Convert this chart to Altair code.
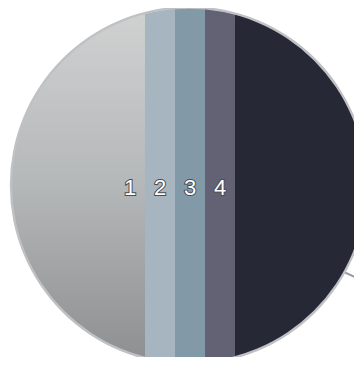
import math
import altair as alt
import pandas as pd

# stripe data (left to right)
categories = ["1", "2", "3", "4", "5"]
widths = [137, 30, 30, 30, 127]
colors = ["#b4b6b7", "#a6b5bf", "#8299a8", "#636174", "#262836"]
labels = ["1", "2", "3", "4", ""]

ends = pd.Series(widths).cumsum()
starts = ends - pd.Series(widths)
df = pd.DataFrame({
    "cat": categories,
    "start": starts,
    "end": ends,
    "label": labels,
    "labx": ends - 15,
})

W, H = 346, 349
CX, CY, R = 181, 177.5, 178

xs = alt.Scale(domain=[0, W], nice=False, zero=False)

gradient = alt.Gradient(
    gradient="linear",
    stops=[alt.GradientStop(color="#d0d2d2", offset=0),
           alt.GradientStop(color="#b5b8b9", offset=0.5),
           alt.GradientStop(color="#8e9091", offset=1)],
    x1=0, x2=0, y1=0, y2=1,
)

first = alt.Chart(df[df.cat == "1"]).mark_rect(color=gradient).encode(
    x=alt.X("start:Q", scale=xs, axis=None),
    x2="end:Q",
    y=alt.value(0),
    y2=alt.value(H),
)

rest = alt.Chart(df[df.cat != "1"]).mark_rect().encode(
    x=alt.X("start:Q", scale=xs, axis=None),
    x2="end:Q",
    y=alt.value(0),
    y2=alt.value(H),
    color=alt.Color("cat:N", scale=alt.Scale(domain=categories[1:], range=colors[1:]), legend=None),
)

mask = alt.Chart(pd.DataFrame({"a": [0]})).mark_arc(
    theta=0, theta2=2 * math.pi, radius=450, innerRadius=R - 0.5, color="white"
).encode(x=alt.value(CX), y=alt.value(CY))

leader = alt.Chart(pd.DataFrame({"a": [0]})).mark_rule(color="#9a9c9f", strokeWidth=2).encode(
    x=alt.value(337), y=alt.value(264.5), x2=alt.value(366), y2=alt.value(278)
)

border = alt.Chart(pd.DataFrame({"a": [0]})).mark_arc(
    theta=0, theta2=2 * math.pi, radius=R + 1.2, innerRadius=R - 1.2, color="#bfc1c4"
).encode(x=alt.value(CX), y=alt.value(CY))

text_outline = alt.Chart(df[df.label != ""]).mark_text(
    font="Liberation Sans", fontSize=22, color="#4a4c52", stroke="#4a4c52",
    strokeWidth=2.0, align="center", baseline="alphabetic",
).encode(
    x=alt.X("labx:Q", scale=xs, axis=None),
    y=alt.value(186.5),
    text="label:N",
)

text = alt.Chart(df[df.label != ""]).mark_text(
    font="Liberation Sans", fontSize=22, color="white",
    align="center", baseline="alphabetic",
).encode(
    x=alt.X("labx:Q", scale=xs, axis=None),
    y=alt.value(186.5),
    text="label:N",
)

chart = alt.layer(first, rest, mask, leader, border, text_outline, text).properties(
    width=W, height=H, padding=0, autosize=alt.AutoSizeParams(type="none")
).configure_view(stroke=None)

chart.save("out.html", embed_options={"renderer": "svg", "actions": False})
